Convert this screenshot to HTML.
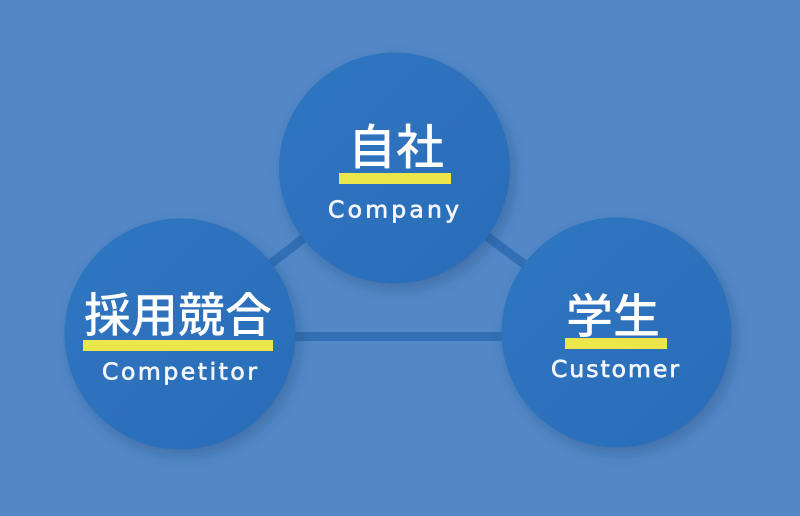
<!DOCTYPE html>
<html>
<head>
<meta charset="utf-8">
<style>
  html, body { margin: 0; padding: 0; }
  body { width: 800px; height: 516px; overflow: hidden; background: #5388c7; }
  svg { display: block; }
</style>
</head>
<body>
<svg width="800" height="516" viewBox="0 0 800 516" xmlns="http://www.w3.org/2000/svg">
  <defs>
    <filter id="sh" x="-30%" y="-30%" width="160%" height="160%">
      <feDropShadow dx="4" dy="6" stdDeviation="7" flood-color="#1a3f70" flood-opacity="0.35"/>
    </filter>
    <linearGradient id="cg" x1="0" y1="0" x2="1" y2="1">
      <stop offset="0" stop-color="#3076c1"/>
      <stop offset="1" stop-color="#2a6cb8"/>
    </linearGradient>
  </defs>
  <rect width="800" height="516" fill="#5388c7"/>

  <!-- connectors -->
  <g stroke="#336fb5" stroke-width="9" fill="none">
    <line x1="180" y1="334" x2="394.5" y2="168"/>
    <line x1="394.5" y1="168" x2="616.5" y2="332.5"/>
    <line x1="180" y1="336.5" x2="616.5" y2="336.5"/>
  </g>

  <!-- circles -->
  <circle cx="394.5" cy="168" r="115.5" fill="url(#cg)" filter="url(#sh)"/>
  <circle cx="180" cy="334" r="115.5" fill="url(#cg)" filter="url(#sh)"/>
  <circle cx="616.5" cy="332.5" r="115" fill="url(#cg)" filter="url(#sh)"/>

  <!-- underlines -->
  <rect x="339" y="173" width="112" height="11" fill="#ebe64a"/>
  <rect x="83" y="340" width="190" height="11" fill="#ebe64a"/>
  <rect x="565" y="338" width="102" height="11" fill="#ebe64a"/>

  <!-- Japanese labels -->
  <g fill="#ffffff" font-family="'Liberation Sans','Noto Sans CJK JP',sans-serif" font-weight="500">
    <text x="348" y="164" font-size="48">自社</text>
    <text x="84" y="332" font-size="47">採用競合</text>
    <text x="566" y="333" font-size="47">学生</text>
  </g>

  <!-- English labels -->
  <g fill="#f2f6fb" stroke="#f2f6fb" stroke-width="0.7" font-family="'DejaVu Sans','Liberation Sans',sans-serif" font-size="23.5">
    <text x="328" y="217.5" textLength="131" lengthAdjust="spacing">Company</text>
    <text x="102" y="379.5" textLength="155" lengthAdjust="spacing">Competitor</text>
    <text x="551" y="377" textLength="128" lengthAdjust="spacing">Customer</text>
  </g>
</svg>
</body>
</html>
